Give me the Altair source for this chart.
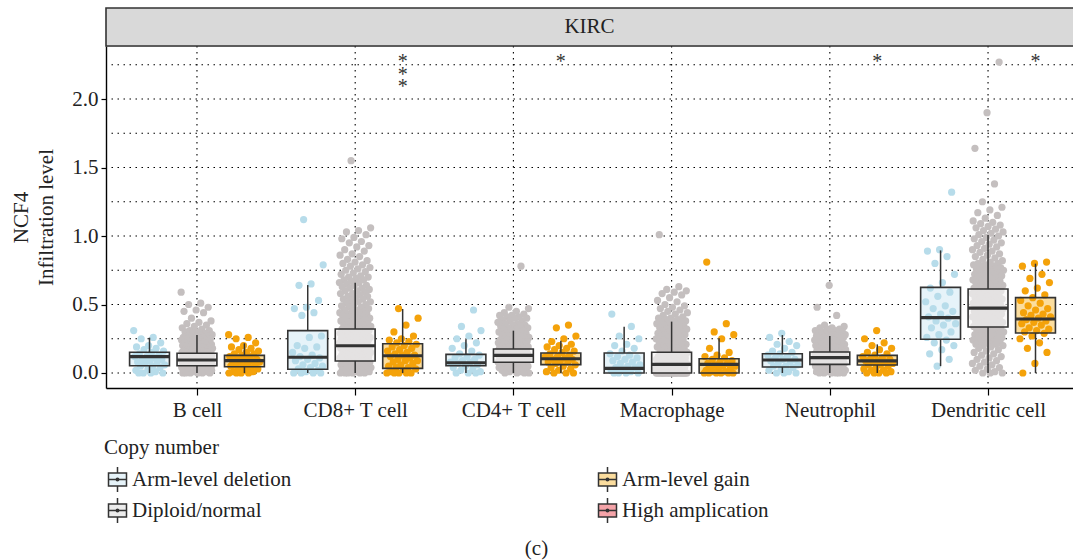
import json

import altair as alt
import pandas as pd

# ---- categories -----------------------------------------------------------
CELLS = ["B cell", "CD8+ T cell", "CD4+ T cell", "Macrophage", "Neutrophil", "Dendritic cell"]
GROUPS = ["Arm-level deletion", "Diploid/normal", "Arm-level gain"]
LEGEND_ORDER = ["Arm-level deletion", "Diploid/normal", "Arm-level gain", "High amplication"]

# ---- infiltration values per cell type and copy-number group ---------------
B_DEL = [0.31, 0.26, 0.25, 0.22, 0.20, 0.19, 0.18, 0.17, 0.16, 0.15, 0.14, 0.13, 0.12, 0.12, 0.11, 0.10,
         0.10, 0.09, 0.08, 0.08, 0.07, 0.06, 0.05, 0.05, 0.04, 0.03, 0.02, 0.01, 0.00, 0.00, 0.00, 0.00]
B_DIP = [0.59, 0.51, 0.50, 0.48, 0.46, 0.45, 0.44, 0.40, 0.38, 0.37, 0.36, 0.35, 0.34, 0.33, 0.32, 0.31,
         0.31, 0.30, 0.30, 0.29, 0.29, 0.28, 0.28,
         0.27, 0.27, 0.27, 0.26, 0.26, 0.26, 0.25, 0.25, 0.25, 0.24, 0.24, 0.24, 0.23, 0.23, 0.23, 0.22,
         0.22, 0.22, 0.21, 0.21, 0.21, 0.20, 0.20, 0.20, 0.20,
         0.19, 0.19, 0.19, 0.19, 0.18, 0.18, 0.18, 0.18, 0.17, 0.17, 0.17, 0.17, 0.16, 0.16, 0.16, 0.16,
         0.15, 0.15, 0.15, 0.15, 0.15,
         0.14, 0.14, 0.14, 0.14, 0.14, 0.13, 0.13, 0.13, 0.13, 0.13, 0.12, 0.12, 0.12, 0.12, 0.12, 0.11,
         0.11, 0.11, 0.11, 0.11, 0.10, 0.10, 0.10, 0.10, 0.10, 0.10,
         0.09, 0.09, 0.09, 0.09, 0.09, 0.08, 0.08, 0.08, 0.08, 0.08, 0.07, 0.07, 0.07, 0.07, 0.07, 0.06,
         0.06, 0.06, 0.06, 0.06, 0.05, 0.05, 0.05, 0.05, 0.05,
         0.04, 0.04, 0.04, 0.04, 0.03, 0.03, 0.03, 0.03, 0.02, 0.02, 0.02, 0.02, 0.01, 0.01, 0.01, 0.01,
         0.00, 0.00, 0.00, 0.00, 0.00, 0.00]
B_GAIN = [0.28, 0.26, 0.25, 0.22, 0.20, 0.19, 0.18, 0.17, 0.16, 0.15, 0.14, 0.14, 0.13, 0.12, 0.12, 0.11,
          0.10, 0.10, 0.09, 0.09, 0.08, 0.08, 0.07, 0.06, 0.06, 0.05, 0.05, 0.04, 0.03, 0.03, 0.02, 0.01,
          0.01, 0.00, 0.00, 0.00, 0.00]

CD8_DEL = [1.12, 0.79, 0.65, 0.64, 0.53, 0.48, 0.47, 0.44, 0.42, 0.27, 0.26, 0.20, 0.19, 0.18, 0.15, 0.13,
           0.12, 0.11, 0.10, 0.09, 0.07, 0.06, 0.05, 0.04, 0.03, 0.02, 0.01, 0.00, 0.00, 0.00, 0.00]
CD8_DIP = [1.55, 1.06, 1.04, 1.03, 1.01, 0.99, 0.98, 0.96, 0.95, 0.93, 0.92, 0.90, 0.89, 0.87, 0.86, 0.85,
           0.83, 0.82, 0.81, 0.80, 0.79, 0.78, 0.77, 0.76, 0.75, 0.74, 0.73, 0.72, 0.71, 0.70, 0.70, 0.69,
           0.68, 0.68, 0.67, 0.66, 0.66, 0.65, 0.64, 0.64, 0.63, 0.62, 0.62, 0.61, 0.60, 0.60, 0.59, 0.58,
           0.58, 0.57, 0.56, 0.56, 0.55, 0.54, 0.54, 0.53, 0.52, 0.52, 0.51, 0.50, 0.50, 0.49, 0.48, 0.48,
           0.47, 0.46, 0.46, 0.45, 0.45, 0.44, 0.44, 0.43, 0.43, 0.42, 0.42, 0.41, 0.41, 0.40, 0.40, 0.39,
           0.39, 0.38, 0.38, 0.37, 0.37, 0.36, 0.36, 0.35, 0.35, 0.34, 0.34, 0.33, 0.33, 0.32, 0.32, 0.32,
           0.31, 0.31, 0.31, 0.30, 0.30, 0.30, 0.29, 0.29, 0.29, 0.28, 0.28, 0.28, 0.27, 0.27, 0.27, 0.26,
           0.26, 0.26, 0.25, 0.25, 0.25, 0.24, 0.24, 0.24, 0.23, 0.23, 0.23, 0.22, 0.22, 0.22, 0.21, 0.21,
           0.21, 0.20, 0.20, 0.20, 0.19, 0.19, 0.19, 0.18, 0.18, 0.18, 0.17, 0.17, 0.17, 0.16, 0.16, 0.16,
           0.15, 0.15, 0.15, 0.14, 0.14, 0.14, 0.13, 0.13, 0.13, 0.12, 0.12, 0.12, 0.11, 0.11, 0.11, 0.10,
           0.10, 0.10, 0.09, 0.09, 0.09, 0.08, 0.08, 0.08, 0.07, 0.07, 0.07, 0.06, 0.06, 0.06, 0.05, 0.05,
           0.05, 0.04, 0.04, 0.04, 0.03, 0.03, 0.03, 0.02, 0.02, 0.02, 0.01, 0.01, 0.01, 0.00, 0.00, 0.00,
           0.00, 0.00, 0.00]
CD8_GAIN = [0.47, 0.40, 0.35, 0.30, 0.27, 0.25, 0.24, 0.23, 0.22, 0.21, 0.20, 0.19, 0.18, 0.17, 0.16, 0.15,
            0.14, 0.13, 0.13, 0.12, 0.11, 0.10, 0.09, 0.09, 0.08, 0.07, 0.06, 0.05, 0.04, 0.04, 0.03, 0.02,
            0.01, 0.00, 0.00, 0.00, 0.00, 0.00]

CD4_DEL = [0.46, 0.34, 0.31, 0.27, 0.25, 0.22, 0.20, 0.18, 0.16, 0.14, 0.13, 0.12, 0.11, 0.10, 0.09, 0.08,
           0.08, 0.07, 0.06, 0.05, 0.04, 0.03, 0.02, 0.01, 0.00, 0.00, 0.00]
CD4_DIP = [0.78, 0.48, 0.47, 0.45, 0.44, 0.43, 0.42, 0.42, 0.41, 0.41, 0.40, 0.40, 0.39, 0.38, 0.38, 0.37,
           0.36, 0.36, 0.35, 0.35, 0.34, 0.34, 0.33, 0.33, 0.32, 0.32, 0.31, 0.31, 0.30, 0.30, 0.29, 0.29,
           0.28, 0.28, 0.27, 0.27, 0.26, 0.26, 0.25, 0.25, 0.25, 0.24, 0.24, 0.24, 0.23, 0.23, 0.23, 0.22,
           0.22, 0.22, 0.21, 0.21, 0.21, 0.20, 0.20, 0.20, 0.19, 0.19, 0.19, 0.18, 0.18, 0.18, 0.18, 0.17,
           0.17, 0.17, 0.17, 0.16, 0.16, 0.16, 0.16, 0.15, 0.15, 0.15, 0.15, 0.14, 0.14, 0.14, 0.14, 0.14,
           0.13, 0.13, 0.13, 0.13, 0.13, 0.12, 0.12, 0.12, 0.12, 0.12, 0.11, 0.11, 0.11, 0.11, 0.10, 0.10,
           0.10, 0.10, 0.09, 0.09, 0.09, 0.09, 0.08, 0.08, 0.08, 0.08, 0.07, 0.07, 0.07, 0.06, 0.06, 0.06,
           0.05, 0.05, 0.05, 0.04, 0.04, 0.04, 0.03, 0.03, 0.03, 0.02, 0.02, 0.01, 0.01, 0.00, 0.00, 0.00,
           0.00]
CD4_GAIN = [0.35, 0.33, 0.27, 0.25, 0.23, 0.21, 0.20, 0.19, 0.18, 0.17, 0.16, 0.15, 0.14, 0.13, 0.12, 0.12,
            0.11, 0.10, 0.10, 0.09, 0.08, 0.08, 0.07, 0.06, 0.05, 0.04, 0.03, 0.02, 0.01, 0.00, 0.00, 0.00]

MAC_DEL = [0.43, 0.34, 0.27, 0.25, 0.21, 0.20, 0.18, 0.16, 0.14, 0.13, 0.12, 0.11, 0.10, 0.09, 0.08, 0.07,
           0.06, 0.05, 0.04, 0.04, 0.03, 0.02, 0.01, 0.00, 0.00, 0.00, 0.00]
MAC_DIP = [1.01, 0.63, 0.61, 0.60, 0.59, 0.58, 0.57, 0.55, 0.53, 0.52, 0.50, 0.49, 0.48, 0.47, 0.46, 0.45,
           0.44, 0.43, 0.42, 0.41, 0.40, 0.40, 0.39, 0.39, 0.38, 0.38, 0.37, 0.37, 0.36, 0.36, 0.35, 0.35,
           0.34, 0.34, 0.33, 0.33, 0.32, 0.32, 0.31, 0.31, 0.30, 0.30, 0.29, 0.29, 0.28, 0.28, 0.27, 0.27,
           0.26, 0.26, 0.25, 0.25, 0.24, 0.24, 0.23, 0.23, 0.22, 0.22, 0.21, 0.21, 0.20, 0.20, 0.19, 0.19,
           0.18, 0.18, 0.17, 0.17, 0.16, 0.16, 0.15, 0.15, 0.14, 0.14, 0.13, 0.13, 0.12, 0.12, 0.12, 0.11,
           0.11, 0.11, 0.10, 0.10, 0.10, 0.09, 0.09, 0.09, 0.08, 0.08, 0.08, 0.07, 0.07, 0.07, 0.06, 0.06,
           0.06, 0.05, 0.05, 0.05, 0.04, 0.04, 0.04, 0.03, 0.03, 0.03, 0.02, 0.02, 0.02, 0.01, 0.01, 0.01,
           0.01, 0.00, 0.00, 0.00, 0.00, 0.00, 0.00, 0.00, 0.00, 0.00, 0.00, 0.00, 0.00, 0.00, 0.00, 0.00,
           0.00, 0.00, 0.00, 0.00, 0.00, 0.00, 0.00, 0.00, 0.00, 0.00, 0.00, 0.00, 0.00, 0.00, 0.00]
MAC_GAIN = [0.81, 0.36, 0.30, 0.28, 0.25, 0.18, 0.15, 0.13, 0.12, 0.11, 0.10, 0.09, 0.08, 0.07, 0.07, 0.06,
            0.05, 0.05, 0.04, 0.03, 0.03, 0.02, 0.01, 0.01, 0.00, 0.00, 0.00, 0.00, 0.00, 0.00]

NEU_DEL = [0.29, 0.26, 0.23, 0.21, 0.20, 0.18, 0.16, 0.15, 0.14, 0.13, 0.12, 0.11, 0.10, 0.10, 0.09, 0.08,
           0.07, 0.06, 0.05, 0.05, 0.04, 0.03, 0.02, 0.01, 0.00, 0.00, 0.00]
NEU_DIP = [0.64, 0.48, 0.42, 0.35, 0.34, 0.33, 0.33, 0.32, 0.32, 0.31, 0.31, 0.30, 0.30, 0.30, 0.29, 0.29,
           0.29, 0.28, 0.28, 0.28, 0.27, 0.27, 0.27, 0.26, 0.26, 0.26, 0.25, 0.25, 0.25, 0.24, 0.24, 0.24,
           0.23, 0.23, 0.23, 0.22, 0.22, 0.22, 0.21, 0.21, 0.21, 0.20, 0.20, 0.20, 0.19, 0.19, 0.19, 0.18,
           0.18, 0.18, 0.18, 0.17, 0.17, 0.17, 0.17, 0.16, 0.16, 0.16, 0.16, 0.15, 0.15, 0.15, 0.15, 0.14,
           0.14, 0.14, 0.14, 0.13, 0.13, 0.13, 0.13, 0.12, 0.12, 0.12, 0.12, 0.11, 0.11, 0.11, 0.11, 0.10,
           0.10, 0.10, 0.10, 0.09, 0.09, 0.09, 0.09, 0.08, 0.08, 0.08, 0.08, 0.07, 0.07, 0.07, 0.06, 0.06,
           0.06, 0.05, 0.05, 0.05, 0.04, 0.04, 0.04, 0.03, 0.03, 0.03, 0.02, 0.02, 0.02, 0.01, 0.01, 0.01,
           0.00, 0.00, 0.00, 0.00, 0.00, 0.00]
NEU_GAIN = [0.31, 0.25, 0.22, 0.20, 0.18, 0.17, 0.15, 0.14, 0.13, 0.12, 0.11, 0.10, 0.10, 0.09, 0.09, 0.08,
            0.08, 0.07, 0.06, 0.06, 0.05, 0.04, 0.03, 0.02, 0.02, 0.01, 0.00, 0.00, 0.00, 0.00]

DC_DEL = [1.32, 0.90, 0.89, 0.85, 0.80, 0.72, 0.66, 0.62, 0.59, 0.56, 0.52, 0.49, 0.47, 0.45, 0.43, 0.41,
          0.40, 0.38, 0.36, 0.35, 0.33, 0.30, 0.28, 0.26, 0.24, 0.22, 0.20, 0.17, 0.14, 0.10, 0.05]
DC_DIP = [2.27, 1.90, 1.64, 1.38, 1.25, 1.21, 1.19, 1.17, 1.15, 1.13, 1.11, 1.10, 1.09, 1.08, 1.07, 1.06,
          1.05, 1.04, 1.03, 1.02, 1.01,
          1.00, 0.99, 0.98, 0.97, 0.96, 0.95, 0.94, 0.93, 0.92, 0.91, 0.90, 0.89, 0.88, 0.87, 0.86, 0.85,
          0.84, 0.83, 0.82, 0.81,
          0.80, 0.80, 0.79, 0.79, 0.78, 0.78, 0.77, 0.77, 0.76, 0.76, 0.75, 0.75, 0.74, 0.74, 0.73, 0.73,
          0.72, 0.72, 0.71, 0.71, 0.70, 0.70, 0.69, 0.69, 0.68, 0.68, 0.67, 0.67, 0.66, 0.66, 0.65, 0.65,
          0.64, 0.64, 0.63, 0.63, 0.62, 0.62, 0.61, 0.61, 0.60, 0.60, 0.59, 0.59, 0.58, 0.58, 0.57, 0.57,
          0.56, 0.56, 0.55, 0.55, 0.54, 0.54, 0.53, 0.53, 0.52, 0.52, 0.51, 0.51, 0.50, 0.50, 0.49, 0.49,
          0.48, 0.48, 0.47, 0.47, 0.46, 0.46, 0.45, 0.45, 0.44, 0.44, 0.43, 0.43, 0.42, 0.42, 0.41, 0.41,
          0.40, 0.40, 0.39, 0.39, 0.38, 0.38, 0.37, 0.37, 0.36, 0.36, 0.35, 0.35, 0.34, 0.34, 0.33, 0.33,
          0.32, 0.32, 0.31, 0.31, 0.30, 0.30, 0.29, 0.29, 0.28, 0.28, 0.27, 0.27, 0.26, 0.26, 0.25, 0.25,
          0.24, 0.24, 0.23, 0.23, 0.22, 0.22, 0.21, 0.21, 0.20, 0.20,
          0.19, 0.18, 0.17, 0.16, 0.15, 0.14, 0.13, 0.12, 0.11, 0.10, 0.09, 0.08, 0.07, 0.06, 0.05, 0.04,
          0.03, 0.02, 0.01, 0.00, 0.00, 0.00]
DC_GAIN = [0.81, 0.80, 0.78, 0.72, 0.69, 0.66, 0.62, 0.60, 0.57, 0.55, 0.53, 0.51, 0.49, 0.47, 0.46, 0.44,
           0.43, 0.42, 0.41, 0.40, 0.39, 0.38, 0.37, 0.36, 0.35, 0.33, 0.32, 0.31, 0.30, 0.29, 0.27, 0.25,
           0.22, 0.18, 0.15, 0.07, 0.00]

VALUES = {
    "Arm-level deletion": [B_DEL, CD8_DEL, CD4_DEL, MAC_DEL, NEU_DEL, DC_DEL],
    "Diploid/normal": [B_DIP, CD8_DIP, CD4_DIP, MAC_DIP, NEU_DIP, DC_DIP],
    "Arm-level gain": [B_GAIN, CD8_GAIN, CD4_GAIN, MAC_GAIN, NEU_GAIN, DC_GAIN],
}

# ---- box-plot summaries (lower whisker, Q1, median, Q3, upper whisker) -----
DEL_LO = [0.0, 0.0, 0.0, 0.0, 0.0, 0.05]
DEL_Q1 = [0.053, 0.027, 0.053, 0.0, 0.044, 0.246]
DEL_MED = [0.119, 0.115, 0.075, 0.034, 0.095, 0.404]
DEL_Q3 = [0.151, 0.309, 0.136, 0.146, 0.141, 0.625]
DEL_HI = [0.258, 0.642, 0.246, 0.338, 0.277, 0.895]

DIP_LO = [0.0, 0.0, 0.0, 0.0, 0.0, 0.0]
DIP_Q1 = [0.053, 0.088, 0.078, 0.0, 0.063, 0.336]
DIP_MED = [0.095, 0.199, 0.129, 0.063, 0.112, 0.474]
DIP_Q3 = [0.144, 0.321, 0.175, 0.151, 0.153, 0.613]
DIP_HI = [0.277, 0.659, 0.309, 0.375, 0.270, 1.007]

GAIN_LO = [0.0, 0.0, 0.0, 0.0, 0.0, 0.0]
GAIN_Q1 = [0.046, 0.034, 0.061, 0.0, 0.058, 0.292]
GAIN_MED = [0.090, 0.126, 0.104, 0.063, 0.088, 0.394]
GAIN_Q3 = [0.129, 0.214, 0.146, 0.104, 0.129, 0.550]
GAIN_HI = [0.217, 0.467, 0.236, 0.253, 0.209, 0.798]

STATS = {
    "Arm-level deletion": (DEL_LO, DEL_Q1, DEL_MED, DEL_Q3, DEL_HI),
    "Diploid/normal": (DIP_LO, DIP_Q1, DIP_MED, DIP_Q3, DIP_HI),
    "Arm-level gain": (GAIN_LO, GAIN_Q1, GAIN_MED, GAIN_Q3, GAIN_HI),
}

# significance marks (gain vs. diploid) per cell type
STARS = ["", "*\n*\n*", "*", "", "*", "*"]
STAR_Y = 2.34

Y_TICKS = [0.0, 0.5, 1.0, 1.5, 2.0]
Y_GRID = [0.0, 0.25, 0.5, 0.75, 1.0, 1.25, 1.5, 1.75, 2.0, 2.25]

# ---- styling ---------------------------------------------------------------
FONT = "Liberation Serif"
FS = 21
INK = "#333333"
POINT_COLORS = ["#b7dcea", "#c4bfbf", "#f4a20a"]
BOX_FILLS = ["#e6f3f9", "#ececec", "#fbdd9e", "#f4a3a8"]
DODGE = {"Arm-level deletion": -0.3, "Diploid/normal": 0.0, "Arm-level gain": 0.3}
BOX_HALF = 0.126
JITTER_HALF = 0.1
W, H = 967, 342

# ---- tables ----------------------------------------------------------------
pt_rows = []
for g in GROUPS:
    for i, vals in enumerate(VALUES[g]):
        for k, v in enumerate(vals):
            frac = (k * 0.6180339887 + i * 0.37) % 1.0
            pt_rows.append({"cell": CELLS[i], "group": g, "value": v,
                            "px": i + 1 + DODGE[g] + (frac - 0.5) * 2 * JITTER_HALF})
points = pd.DataFrame(pt_rows)

box_rows = []
for g in GROUPS:
    lo, q1, med, q3, hi = STATS[g]
    for i in range(len(CELLS)):
        cx = i + 1 + DODGE[g]
        box_rows.append({"cell": CELLS[i], "group": g, "cx": cx,
                         "xl": cx - BOX_HALF, "xr": cx + BOX_HALF,
                         "lo": lo[i], "q1": q1[i], "med": med[i], "q3": q3[i], "hi": hi[i]})
boxes = pd.DataFrame(box_rows)

stars = pd.DataFrame({"sx": [i + 1 + DODGE["Arm-level gain"] for i in range(len(CELLS))],
                      "sy": [STAR_Y] * len(CELLS), "label": STARS})
stars = stars[stars["label"] != ""]

# ---- scales & axes ---------------------------------------------------------
xs = alt.Scale(domain=[0.425, 6.537], nice=False, zero=False)
ys = alt.Scale(domain=[-0.1095, 2.387], nice=False, zero=False)

X_AX = alt.Axis(values=list(range(1, len(CELLS) + 1)),
                labelExpr=f"{json.dumps(CELLS)}[datum.value - 1]",
                title=None, grid=False, domainColor="#000", domainWidth=1.4,
                tickColor="#000", tickWidth=1.2, tickSize=7, labelPadding=4,
                labelFont=FONT, labelFontSize=FS, labelColor="#222")
Y_AX = alt.Axis(values=Y_TICKS, format=".1f", grid=False,
                title=["NCF4", "Infiltration level"], titleFont=FONT, titleFontSize=FS,
                titleFontWeight="normal", titleColor="#222", titleLineHeight=25, titlePadding=15,
                domainColor="#000", domainWidth=1.4, tickColor="#000", tickWidth=1.2, tickSize=5,
                labelPadding=3, labelFont=FONT, labelFontSize=FS, labelColor="#222")

X = lambda f: alt.X(f, scale=xs, axis=X_AX)
Y = lambda f: alt.Y(f, scale=ys, axis=Y_AX)

DOT = dict(stroke="#000", strokeWidth=1.1, strokeDash=[1.5, 4.5])

grid_h = alt.Chart(pd.DataFrame({"gy": Y_GRID})).mark_rule(**DOT).encode(y=Y("gy:Q"))
grid_v = alt.Chart(pd.DataFrame({"gx": list(range(1, len(CELLS) + 1))})).mark_rule(**DOT).encode(x=X("gx:Q"))

legend_shape = ("M-0.72,-0.52H0.72V0.52H-0.72Z M0,-1V-0.52 M0,0.52V1 M-0.72,0H0.72 "
                "M-0.1,0A0.1,0.1 0 1,0 0.1,0A0.1,0.1 0 1,0 -0.1,0")

box_fill = alt.Chart(boxes).transform_filter(
    alt.datum.group != "Diploid/normal"
).mark_rect().encode(
    x=X("xl:Q"), x2="xr:Q", y=Y("q1:Q"), y2="q3:Q",
    fill=alt.Fill("group:N", scale=alt.Scale(domain=LEGEND_ORDER, range=BOX_FILLS),
                  legend=alt.Legend(title="Copy number", orient="none", legendX=-2, legendY=391,
                                    columns=2, columnPadding=302, rowPadding=0,
                                    symbolType=legend_shape, symbolSize=625,
                                    symbolStrokeColor=INK, symbolStrokeWidth=1.5,
                                    labelFont=FONT, labelFontSize=FS, labelColor="#222",
                                    labelOffset=1, titleFont=FONT, titleFontSize=FS,
                                    titleFontWeight="normal", titleColor="#222", titlePadding=8)),
)

pts = alt.Chart(points).mark_circle(size=52, opacity=1).encode(
    x=X("px:Q"), y=Y("value:Q"),
    fill=alt.Fill("group:N", scale=alt.Scale(domain=GROUPS, range=POINT_COLORS), legend=None),
)

dip_fill = alt.Chart(boxes).transform_filter(
    alt.datum.group == "Diploid/normal"
).mark_rect(fill="#f6f4f4", opacity=0.65).encode(x=X("xl:Q"), x2="xr:Q", y=Y("q1:Q"), y2="q3:Q")

whisk_lo = alt.Chart(boxes).mark_rule(stroke=INK, strokeWidth=1.5).encode(
    x=X("cx:Q"), y=Y("lo:Q"), y2="q1:Q")
whisk_hi = alt.Chart(boxes).mark_rule(stroke=INK, strokeWidth=1.5).encode(
    x=X("cx:Q"), y=Y("q3:Q"), y2="hi:Q")
outline = alt.Chart(boxes).mark_rect(fillOpacity=0, stroke=INK, strokeWidth=1.6).encode(
    x=X("xl:Q"), x2="xr:Q", y=Y("q1:Q"), y2="q3:Q")
median = alt.Chart(boxes).mark_rule(stroke=INK, strokeWidth=3.2).encode(
    x=X("xl:Q"), x2="xr:Q", y=Y("med:Q"))

star_text = alt.Chart(stars).mark_text(font=FONT, fontSize=20, color="#333", baseline="top",
                                       lineBreak="\n", lineHeight=12.5).encode(
    x=X("sx:Q"), y=Y("sy:Q"), text="label:N")

strip_df = pd.DataFrame({"panel": ["KIRC"]})
strip = alt.Chart(strip_df).mark_rect(fill="#d9d9d9", stroke=INK, strokeWidth=1.6).encode(
    x=alt.value(0), x2=alt.value(W + 2), y=alt.value(-38), y2=alt.value(0))
strip_text = alt.Chart(strip_df).mark_text(font=FONT, fontSize=FS, color="#222",
                                           baseline="middle").encode(
    x=alt.value(W / 2), y=alt.value(-19), text="panel:N")

chart = alt.layer(
    grid_h, grid_v, box_fill, pts, dip_fill, whisk_lo, whisk_hi, outline, median,
    star_text, strip, strip_text,
).resolve_scale(fill="independent").properties(
    width=W, height=H,
    autosize=alt.AutoSizeParams(type="none"),
    padding={"left": 106, "top": 46, "right": 0, "bottom": 172},
    title=alt.TitleParams("(c)", orient="bottom", anchor="middle", frame="group", dx=-53,
                          offset=12, font=FONT, fontSize=FS, fontWeight="normal", color="#222"),
).configure_view(stroke=None).configure(background="white")

chart.save("out.html", embed_options={"renderer": "svg", "actions": False})
